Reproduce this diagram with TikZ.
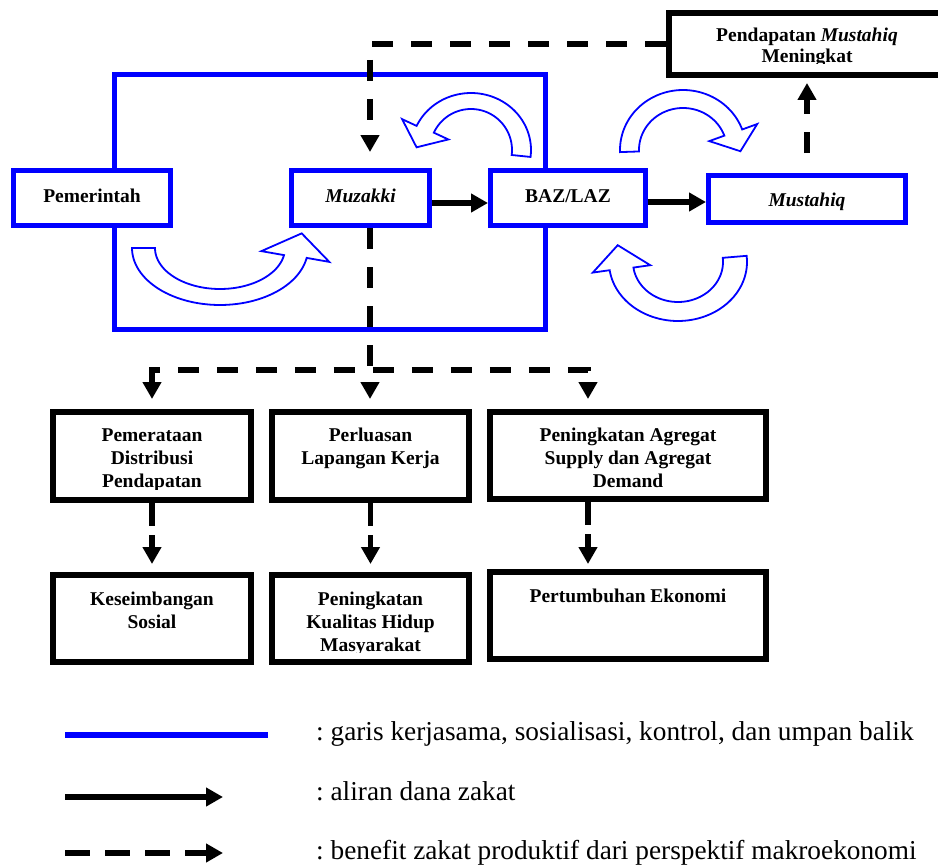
\documentclass[tikz,border=0pt]{standalone}
\usepackage{fontspec}
\setmainfont{Liberation Serif}
\usetikzlibrary{arrows.meta,calc}
\definecolor{zblue}{RGB}{0,0,255}
\frenchspacing
% hollow curved arrow: #1 centre, #2/#3 outer radii, #4/#5 inner radii,
% #6 start angle, #7 end angle, #8 barb extension, #9 head length
\newcommand\hollowarc[9]{%
  \pgfmathsetmacro\hsg{(#7>#6)?1:-1}%
  \pgfmathsetmacro\ham{(#2+#4)/2}%
  \pgfmathsetmacro\hbm{(#3+#5)/2}%
  \pgfmathsetmacro\htx{-1*(\hsg)*\ham*sin(#7)}%
  \pgfmathsetmacro\hty{(\hsg)*\hbm*cos(#7)}%
  \pgfmathsetmacro\htn{veclen(\htx,\hty)}%
  \pgfmathsetmacro\hipx{\ham*cos(#7)+#9*\htx/\htn}%
  \pgfmathsetmacro\hipy{\hbm*sin(#7)+#9*\hty/\htn}%
  \draw[hollow,shift={(#1)}]
    plot[domain=#6:#7,samples=60] ({#2*cos(\x)},{#3*sin(\x)})
    -- ({(#2+#8)*cos(#7)},{(#3+#8)*sin(#7)})
    -- (\hipx,\hipy)
    -- ({(#4-#8)*cos(#7)},{(#5-#8)*sin(#7)})
    -- plot[domain=#7:#6,samples=60] ({#4*cos(\x)},{#5*sin(\x)}) -- cycle;}
\begin{document}
\begin{tikzpicture}[x=1pt,y=-1pt,
  bluebox/.style={draw=zblue,line width=5pt,fill=white,inner sep=0pt,
     font=\fontsize{19.5}{23}\selectfont\bfseries},
  blackbox/.style={draw=black,line width=6pt,fill=white,inner sep=0pt},
  boxtext/.style={font=\fontsize{19.5}{23}\selectfont\bfseries,anchor=base,inner sep=0pt},
  legtext/.style={font=\fontsize{27.3}{30}\selectfont,anchor=base west,inner sep=0pt},
  tip/.style={-{Triangle[length=17pt,width=18pt]}},
  flow/.style={line width=5.5pt,tip},
  benefit/.style={line width=5.5pt,dash pattern=on 21pt off 18pt,tip},
  benefitshort/.style={line width=5.5pt,dash pattern=on 22.5pt off 9.5pt,tip},
  hollow/.style={draw=zblue,line width=1.8pt,fill=white,line join=miter}]

\useasboundingbox (0,0) rectangle (938,867);
\fill[white] (0,0) rectangle (938,867);

% cooperation frame
\node[draw=zblue,line width=5pt,minimum width=431pt,minimum height=255pt,inner sep=0pt] (coop) at (330,202) {};

% free ends of dashed connectors
\coordinate (mtop) at (370,152);
\coordinate (mbot) at (370,228);
\coordinate (mup) at (807,153);
\coordinate (hr) at (588,370);

% black boxes
\node[blackbox,minimum width=291pt,minimum height=62pt] (pend) at (814.5,44) {};
\node[blackbox,minimum width=198pt,minimum height=88pt] (pdist) at (152,456) {};
\node[blackbox,minimum width=197pt,minimum height=88pt] (plap) at (370.5,456) {};
\node[blackbox,minimum width=276pt,minimum height=87pt] (pagr) at (628,455.5) {};
\node[blackbox,minimum width=198pt,minimum height=87pt] (pseimb) at (152,618.5) {};
\node[blackbox,minimum width=197pt,minimum height=87pt] (phidup) at (370.5,618.5) {};
\node[blackbox,minimum width=276pt,minimum height=87pt] (ptumb) at (628,615.5) {};

% dashed benefit connectors
\draw[benefit] (pend.west) -| (mtop);
\draw[benefit,shorten >=10pt] (mbot) -- (plap.north -| mbot);
\draw[benefit,{Triangle[length=17pt,width=18pt]}-{Triangle[length=17pt,width=18pt]},
      shorten <=10pt,shorten >=10pt] (pdist.north) |- (hr) -- (hr |- pagr.north);
\draw[benefitshort,shorten >=8pt] (pdist.south) -- (pseimb.north);
\draw[benefitshort,shorten >=8pt] (plap.south) -- (phidup.north);
\draw[benefitshort,shorten >=5pt] (pagr.south -| hr) -- (ptumb.north -| hr);
\draw[benefit,shorten >=5pt] (mup) -- (mup |- pend.south);

% blue boxes
\node[bluebox,minimum width=157pt,minimum height=55pt,text height=13pt,text depth=5pt] (pem) at (92,198) {Pemerintah};
\node[bluebox,minimum width=138pt,minimum height=55pt,text height=13pt,text depth=5pt] (muz) at (360.5,198) {\textit{Muzakki}};
\node[bluebox,minimum width=155pt,minimum height=55pt,text height=13pt,text depth=5pt] (baz) at (568,198) {BAZ/LAZ};
\node[bluebox,minimum width=197pt,minimum height=47pt,text height=14pt,text depth=0pt] (must) at (807,199) {\textit{Mustahiq}};

% zakat flow
\draw[flow] ([yshift=-5pt]muz.east) -- ([yshift=-5pt]baz.west);
\draw[flow] ([yshift=-4pt]baz.east) -- ([yshift=-3pt]must.west);

% curved hollow arrows
\hollowarc{220,248}{88}{57}{65}{41}{180}{10}{23}{24}
\hollowarc{471,150}{60}{57}{41}{41}{7}{-155}{16}{20}
\hollowarc{683,150}{63}{60}{44}{42}{178}{340}{16}{20}
\hollowarc{678,262}{69}{59}{45}{40}{-6}{172}{17}{24}

% box texts
\begin{scope}
\clip (668,0) rectangle (938,64);
\node[boxtext] (pendt1) at (807,42) {Pendapatan \textit{Mustahiq}};
\node[boxtext] (pendt2) at (807,63) {Meningkat};
\end{scope}
\begin{scope}
\clip (0,380) rectangle (938,489);
\node[boxtext] (ta1) at (152,441) {Pemerataan};
\node[boxtext] (ta2) at (152,464) {Distribusi};
\node[boxtext] (ta3) at (152,487) {Pendapatan};
\node[boxtext] (tb1) at (370.5,441) {Perluasan};
\node[boxtext] (tb2) at (370.5,464) {Lapangan Kerja};
\node[boxtext] (tc1) at (628,441) {Peningkatan Agregat};
\node[boxtext] (tc2) at (628,464) {Supply dan Agregat};
\node[boxtext] (tc3) at (628,487) {Demand};
\end{scope}
\begin{scope}
\clip (0,540) rectangle (938,652);
\node[boxtext] (td1) at (152,605) {Keseimbangan};
\node[boxtext] (td2) at (152,628) {Sosial};
\node[boxtext] (te1) at (370.5,605) {Peningkatan};
\node[boxtext] (te2) at (370.5,628) {Kualitas Hidup};
\node[boxtext] (te3) at (370.5,651) {Masyarakat};
\node[boxtext] (tf1) at (628,602) {Pertumbuhan Ekonomi};
\end{scope}

% legend
\coordinate (l1a) at (65,735); \coordinate (l1b) at (268,735);
\coordinate (l2a) at (65,797); \coordinate (l2b) at (223,797);
\coordinate (l3a) at (65,853); \coordinate (l3b) at (223,853);
\draw[zblue,line width=5.5pt] (l1a) -- (l1b);
\draw[flow] (l2a) -- (l2b);
\draw[line width=5.5pt,dash pattern=on 25pt off 15pt,tip] (l3a) -- (l3b);
\node[legtext] (leg1) at (316,740) {: garis kerjasama, sosialisasi, kontrol, dan umpan balik};
\node[legtext] (leg2) at (316,800) {: aliran dana zakat};
\node[legtext] (leg3) at (316,859) {: benefit zakat produktif dari perspektif makroekonomi};
\end{tikzpicture}
\end{document}
